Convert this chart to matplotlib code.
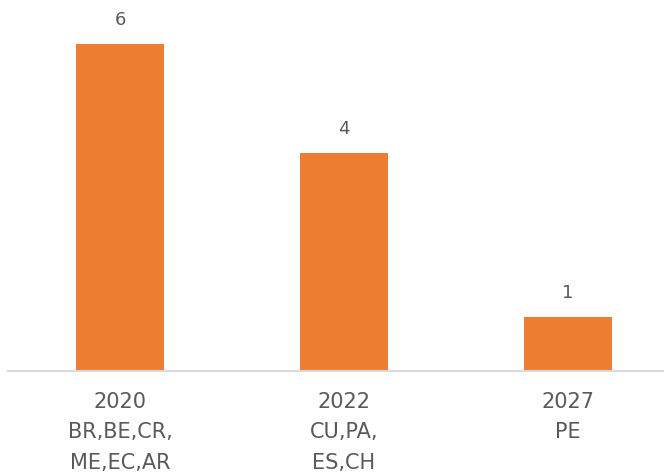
import matplotlib
matplotlib.use("Agg")
import matplotlib.pyplot as plt

categories = ["2020\nBR,BE,CR,\nME,EC,AR", "2022\nCU,PA,\nES,CH", "2027\nPE"]
values = [6, 4, 1]

bar_color = "#ED7D31"
text_color = "#595959"

plt.rcParams['font.family'] = ['DejaVu Sans']

fig = plt.figure(figsize=(6.64, 4.76), dpi=100)
# axes: baseline at y=371 px from top, spanning x from 8 to 680 px
ax = fig.add_axes([8/664, (476-371)/476, 672/664, 371/476])
x = list(range(len(categories)))
bars = ax.bar(x, values, width=0.393, color=bar_color)
ax.set_xlim(-0.5, len(categories) - 0.5)
ax.set_ylim(0, 6.81)

for xi, v in zip(x, values):
    ax.text(xi, v + 0.27, str(v), ha="center", va="bottom", fontsize=13, color=text_color)

ax.set_xticks(x)
ax.set_xticklabels(categories, fontsize=15, color=text_color, linespacing=1.66)
ax.tick_params(axis="x", length=0, pad=15)
ax.set_yticks([])
for s in ["top", "right", "left"]:
    ax.spines[s].set_visible(False)
ax.spines["bottom"].set_color("#D9D9D9")
ax.spines["bottom"].set_linewidth(1.5)

fig.savefig("out.png", dpi=100)
